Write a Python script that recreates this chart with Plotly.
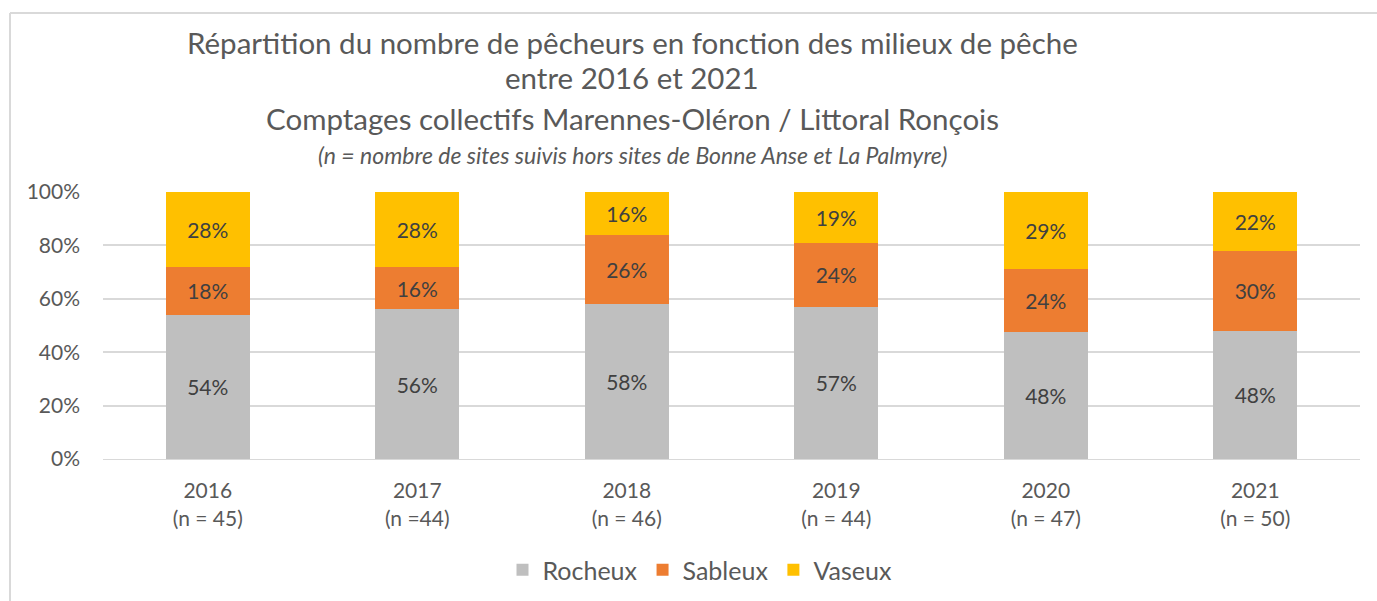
import plotly.graph_objects as go

years = ["2016", "2017", "2018", "2019", "2020", "2021"]
sites = ["(n = 45)", "(n =44)", "(n = 46)", "(n = 44)", "(n = 47)", "(n = 50)"]
rocheux = [54, 56, 58, 57, 48, 48]
sableux = [18, 16, 26, 24, 24, 30]
vaseux = [28, 28, 16, 19, 29, 22]
y_ticks = [0, 20, 40, 60, 80, 100]

FONT = "Lato"
TEXT = "#595959"
LABEL = "#404040"

W, H = 1377, 601
L, R, T, B = 103, 17, 192, 142
PW, PH = W - L - R, H - T - B


def px_x(px):
    return (px - L) / PW


def px_y(py):
    return (H - B - py) / PH


fig = go.Figure()
for name, vals, color in [
    ("Rocheux", rocheux, "#BFBFBF"),
    ("Sableux", sableux, "#ED7D31"),
    ("Vaseux", vaseux, "#FFC000"),
]:
    fig.add_trace(go.Bar(
        name=name, x=years, y=vals, marker=dict(color=color, line=dict(width=0)),
        text=[f"{v}%" for v in vals], texttemplate="%{text}",
        textposition="inside", insidetextanchor="middle",
        textfont=dict(family=FONT, size=21, color=LABEL),
        hoverinfo="skip",
    ))

title_lines = [
    ("Répartition du nombre de pêcheurs en fonction des milieux de pêche", 42, 29.5, False),
    ("entre 2016 et 2021", 77, 29.5, False),
    ("Comptages collectifs Marennes-Oléron / Littoral Ronçois", 118, 29.5, False),
    ("(n = nombre de sites suivis hors sites de Bonne Anse et La Palmyre)", 155, 23, True),
]
annotations = []
for txt, py, size, ital in title_lines:
    annotations.append(dict(
        text=f"<i>{txt}</i>" if ital else txt, xref="paper", yref="paper",
        x=px_x(632), y=px_y(py), xanchor="center", yanchor="middle",
        showarrow=False, font=dict(family=FONT, size=size, color=TEXT),
    ))

shapes = [
    dict(type="line", xref="paper", yref="paper", x0=px_x(10), x1=px_x(1400),
         y0=px_y(13), y1=px_y(13), line=dict(color="#D9D9D9", width=2)),
    dict(type="line", xref="paper", yref="paper", x0=px_x(10), x1=px_x(10),
         y0=px_y(13), y1=px_y(620), line=dict(color="#D9D9D9", width=2)),
]

fig.update_layout(
    width=W, height=H, barmode="stack", barnorm="percent", bargap=0.6,
    margin=dict(l=L, r=R, t=T, b=B, autoexpand=False),
    paper_bgcolor="white", plot_bgcolor="white",
    font=dict(family=FONT, color=TEXT),
    showlegend=True,
    legend=dict(orientation="h", x=px_x(700), xanchor="center", y=px_y(570), yanchor="middle",
                font=dict(family=FONT, size=25, color=TEXT), traceorder="normal",
                itemwidth=30, itemclick=False),
    annotations=annotations, shapes=shapes,
    uniformtext=dict(mode=False),
)
fig.update_xaxes(
    tickvals=years, ticktext=[f"{y}<br>{s}" for y, s in zip(years, sites)],
    tickfont=dict(family=FONT, size=21, color=TEXT), showline=True,
    linecolor="#D9D9D9", linewidth=1, ticks="", ticklabelstandoff=13, fixedrange=True,
)
fig.update_yaxes(
    range=[0, 100], tickvals=y_ticks, ticktext=[f"{v}%" for v in y_ticks],
    tickfont=dict(family=FONT, size=21, color=TEXT), showgrid=True,
    gridcolor="#D9D9D9", gridwidth=1.5, zeroline=False, ticks="", ticklabelstandoff=22,
    fixedrange=True,
)

fig.write_html("out.html", config={"displayModeBar": False})
